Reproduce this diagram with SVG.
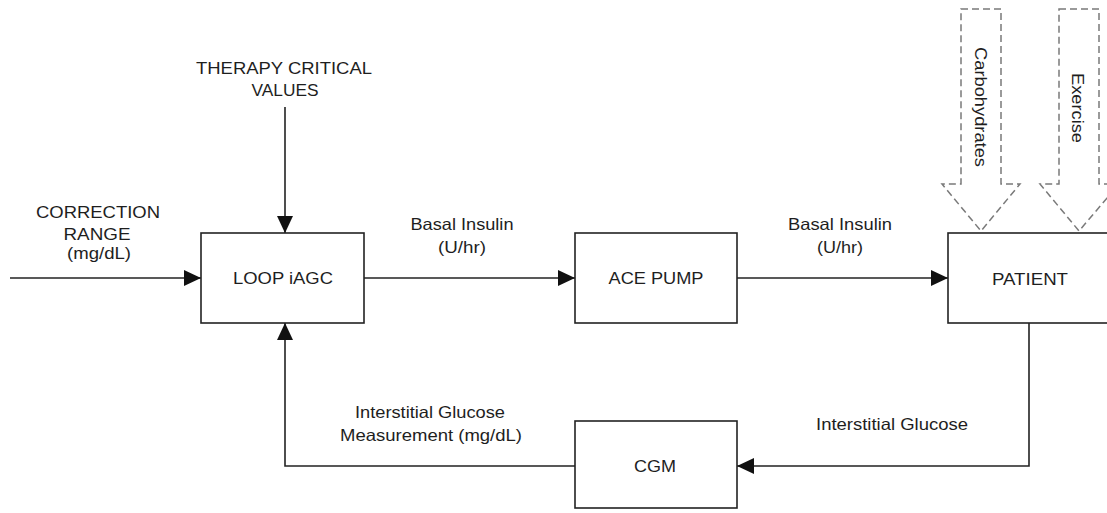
<svg xmlns="http://www.w3.org/2000/svg" width="1107" height="513" viewBox="0 0 1107 513">
<style>
.box{fill:#fff;stroke:#222;stroke-width:1.6}
.ln{fill:none;stroke:#222;stroke-width:1.6}
.dash{fill:#fff;stroke:#7a7a7a;stroke-width:1.5;stroke-dasharray:7 4}
text{font-family:"Liberation Sans",Arial,sans-serif;font-size:16.5px;fill:#1e1e1e;text-anchor:middle}
</style>
<defs>
<marker id="ah" markerWidth="18" markerHeight="16" refX="17" refY="8" orient="auto" markerUnits="userSpaceOnUse">
<path d="M0,0 L17,8 L0,16 Z" fill="#111"/>
</marker>
</defs>
<rect width="1107" height="513" fill="#fff"/>
<g id="connectors">
<line class="ln" x1="10" y1="278" x2="201" y2="278" marker-end="url(#ah)"/>
<line class="ln" x1="285" y1="107" x2="285" y2="233" marker-end="url(#ah)"/>
<line class="ln" x1="364" y1="278" x2="575" y2="278" marker-end="url(#ah)"/>
<line class="ln" x1="737" y1="278" x2="948" y2="278" marker-end="url(#ah)"/>
<polyline class="ln" points="1029,323 1029,466 737,466" marker-end="url(#ah)"/>
<polyline class="ln" points="575,466 285,466 285,323" marker-end="url(#ah)"/>
</g>
<g id="loop">
<rect class="box" x="201" y="233" width="163" height="90"/>
<text x="283" y="284" textLength="100" lengthAdjust="spacingAndGlyphs">LOOP iAGC</text>
</g>
<g id="ace">
<rect class="box" x="575" y="233" width="162" height="90"/>
<text x="656" y="284" textLength="95" lengthAdjust="spacingAndGlyphs">ACE PUMP</text>
</g>
<g id="patient">
<rect class="box" x="948" y="233" width="170" height="90"/>
<text x="1030" y="285" textLength="76" lengthAdjust="spacingAndGlyphs">PATIENT</text>
</g>
<g id="cgm">
<rect class="box" x="575" y="421" width="162" height="87"/>
<text x="655" y="472" textLength="42" lengthAdjust="spacingAndGlyphs">CGM</text>
</g>
<g id="carbohydrates">
<polygon class="dash" points="961,9 1001,9 1001,184 1020,184 981,231 942,184 961,184"/>
<text transform="translate(981,107) rotate(90)" x="0" y="6" textLength="120" lengthAdjust="spacingAndGlyphs">Carbohydrates</text>
</g>
<g id="exercise">
<polygon class="dash" points="1059,9 1099,9 1099,184 1119,184 1079,231 1040,184 1059,184"/>
<text transform="translate(1078,108) rotate(90)" x="0" y="6" textLength="70" lengthAdjust="spacingAndGlyphs">Exercise</text>
</g>
<g id="labels">
<text x="284" y="74" textLength="176" lengthAdjust="spacingAndGlyphs">THERAPY CRITICAL</text>
<text x="285" y="96" textLength="67" lengthAdjust="spacingAndGlyphs">VALUES</text>
<text x="98" y="218" textLength="124" lengthAdjust="spacingAndGlyphs">CORRECTION</text>
<text x="97" y="240" textLength="67" lengthAdjust="spacingAndGlyphs">RANGE</text>
<text x="99" y="259" textLength="64" lengthAdjust="spacingAndGlyphs">(mg/dL)</text>
<text x="462" y="230" textLength="103" lengthAdjust="spacingAndGlyphs">Basal Insulin</text>
<text x="462" y="253" textLength="48" lengthAdjust="spacingAndGlyphs">(U/hr)</text>
<text x="840" y="230" textLength="104" lengthAdjust="spacingAndGlyphs">Basal Insulin</text>
<text x="840" y="253" textLength="46" lengthAdjust="spacingAndGlyphs">(U/hr)</text>
<text x="430" y="418" textLength="150" lengthAdjust="spacingAndGlyphs">Interstitial Glucose</text>
<text x="431" y="441" textLength="182" lengthAdjust="spacingAndGlyphs">Measurement (mg/dL)</text>
<text x="892" y="430" textLength="152" lengthAdjust="spacingAndGlyphs">Interstitial Glucose</text>
</g>
</svg>
